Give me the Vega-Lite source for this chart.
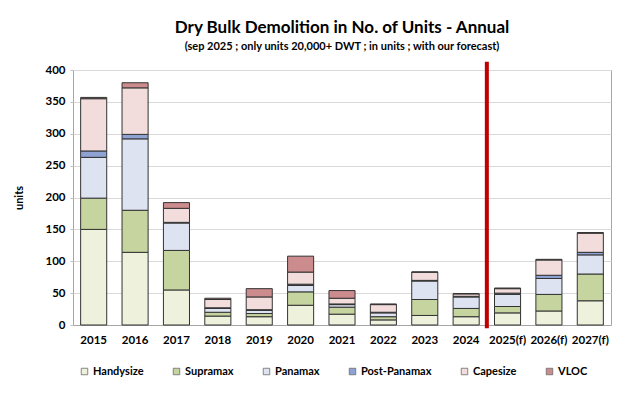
{
  "$schema": "https://vega.github.io/schema/vega-lite/v6.json",
  "width": 538,
  "height": 255,
  "autosize": {"type": "none"},
  "padding": {"left": 73, "top": 70, "right": 14, "bottom": 71},
  "background": "white",
  "title": {
    "text": "Dry Bulk Demolition in No. of Units - Annual",
    "subtitle": "(sep 2025 ; only units 20,000+ DWT ; in units ; with our forecast)",
    "anchor": "middle",
    "font": "Lato",
    "fontSize": 17,
    "fontWeight": "bold",
    "color": "black",
    "subtitleFont": "Lato",
    "subtitleFontSize": 11,
    "subtitleFontWeight": "bold",
    "subtitleColor": "black",
    "subtitlePadding": 4,
    "offset": 7
  },
  "config": {
    "view": {"stroke": "#A6A6A6", "strokeWidth": 1},
    "axis": {"labelFont": "Lato", "labelFontWeight": "bold", "labelFontSize": 11, "labelColor": "black", "titleFont": "Lato", "titleFontWeight": "bold", "titleFontSize": 11, "titleColor": "black"},
    "axisY": {"values": [0,50,100,150,200,250,300,350,400], "labelOverlap": false, "gridColor": "#D9D9D9", "gridWidth": 1, "domain": false, "tickColor": "#BFBFBF", "tickSize": 3, "labelPadding": 5, "titlePadding": 20, "labelFontSize": 11.5},
    "legend": {"labelFont": "Lato", "labelFontWeight": "bold", "labelFontSize": 11, "labelColor": "black"}
  },
  "datasets": {
    "demo": [
      {"year": "2015", "type": "Handysize", "units": 150}, {"year": "2015", "type": "Supramax", "units": 49}, {"year": "2015", "type": "Panamax", "units": 64}, {"year": "2015", "type": "Post-Panamax", "units": 10}, {"year": "2015", "type": "Capesize", "units": 82}, {"year": "2015", "type": "VLOC", "units": 2},
      {"year": "2016", "type": "Handysize", "units": 114}, {"year": "2016", "type": "Supramax", "units": 66}, {"year": "2016", "type": "Panamax", "units": 112}, {"year": "2016", "type": "Post-Panamax", "units": 7}, {"year": "2016", "type": "Capesize", "units": 73}, {"year": "2016", "type": "VLOC", "units": 8},
      {"year": "2017", "type": "Handysize", "units": 55}, {"year": "2017", "type": "Supramax", "units": 62}, {"year": "2017", "type": "Panamax", "units": 43}, {"year": "2017", "type": "Post-Panamax", "units": 1}, {"year": "2017", "type": "Capesize", "units": 22}, {"year": "2017", "type": "VLOC", "units": 9},
      {"year": "2018", "type": "Handysize", "units": 14}, {"year": "2018", "type": "Supramax", "units": 6}, {"year": "2018", "type": "Panamax", "units": 6}, {"year": "2018", "type": "Post-Panamax", "units": 1}, {"year": "2018", "type": "Capesize", "units": 13}, {"year": "2018", "type": "VLOC", "units": 2},
      {"year": "2019", "type": "Handysize", "units": 13}, {"year": "2019", "type": "Supramax", "units": 5}, {"year": "2019", "type": "Panamax", "units": 5}, {"year": "2019", "type": "Post-Panamax", "units": 1}, {"year": "2019", "type": "Capesize", "units": 20}, {"year": "2019", "type": "VLOC", "units": 13},
      {"year": "2020", "type": "Handysize", "units": 31}, {"year": "2020", "type": "Supramax", "units": 21}, {"year": "2020", "type": "Panamax", "units": 10}, {"year": "2020", "type": "Post-Panamax", "units": 2}, {"year": "2020", "type": "Capesize", "units": 19}, {"year": "2020", "type": "VLOC", "units": 25},
      {"year": "2021", "type": "Handysize", "units": 17}, {"year": "2021", "type": "Supramax", "units": 11}, {"year": "2021", "type": "Panamax", "units": 4}, {"year": "2021", "type": "Post-Panamax", "units": 1}, {"year": "2021", "type": "Capesize", "units": 9}, {"year": "2021", "type": "VLOC", "units": 12},
      {"year": "2022", "type": "Handysize", "units": 8}, {"year": "2022", "type": "Supramax", "units": 5}, {"year": "2022", "type": "Panamax", "units": 6}, {"year": "2022", "type": "Post-Panamax", "units": 1}, {"year": "2022", "type": "Capesize", "units": 12}, {"year": "2022", "type": "VLOC", "units": 1},
      {"year": "2023", "type": "Handysize", "units": 15}, {"year": "2023", "type": "Supramax", "units": 25}, {"year": "2023", "type": "Panamax", "units": 29}, {"year": "2023", "type": "Post-Panamax", "units": 1}, {"year": "2023", "type": "Capesize", "units": 13}, {"year": "2023", "type": "VLOC", "units": 0},
      {"year": "2024", "type": "Handysize", "units": 13}, {"year": "2024", "type": "Supramax", "units": 13}, {"year": "2024", "type": "Panamax", "units": 18}, {"year": "2024", "type": "Post-Panamax", "units": 1}, {"year": "2024", "type": "Capesize", "units": 4}, {"year": "2024", "type": "VLOC", "units": 0},
      {"year": "2025(f)", "type": "Handysize", "units": 19}, {"year": "2025(f)", "type": "Supramax", "units": 10}, {"year": "2025(f)", "type": "Panamax", "units": 19}, {"year": "2025(f)", "type": "Post-Panamax", "units": 2}, {"year": "2025(f)", "type": "Capesize", "units": 7}, {"year": "2025(f)", "type": "VLOC", "units": 1},
      {"year": "2026(f)", "type": "Handysize", "units": 22}, {"year": "2026(f)", "type": "Supramax", "units": 26}, {"year": "2026(f)", "type": "Panamax", "units": 25}, {"year": "2026(f)", "type": "Post-Panamax", "units": 5}, {"year": "2026(f)", "type": "Capesize", "units": 24}, {"year": "2026(f)", "type": "VLOC", "units": 1},
      {"year": "2027(f)", "type": "Handysize", "units": 38}, {"year": "2027(f)", "type": "Supramax", "units": 42}, {"year": "2027(f)", "type": "Panamax", "units": 30}, {"year": "2027(f)", "type": "Post-Panamax", "units": 4}, {"year": "2027(f)", "type": "Capesize", "units": 30}, {"year": "2027(f)", "type": "VLOC", "units": 1}
    ],
    "divider": [
      {"year": "2025(f)", "low": -5, "high": 413}
    ]
  },
  "layer": [
    {
      "data": {"name": "demo"},
      "transform": [
        {"calculate": "indexof(['Handysize','Supramax','Panamax','Post-Panamax','Capesize','VLOC'], datum.type)", "as": "stackOrder"}
      ],
      "mark": {"type": "bar", "width": {"band": 0.63}, "stroke": "#333333", "strokeWidth": 1},
      "encoding": {
        "x": {
          "field": "year", "type": "ordinal",
          "scale": {"domain": ["2015","2016","2017","2018","2019","2020","2021","2022","2023","2024","2025(f)","2026(f)","2027(f)"], "paddingInner": 0, "paddingOuter": 0},
          "axis": {"title": null, "labelAngle": 0, "ticks": false, "labelPadding": 9, "domainColor": "#A6A6A6", "labelFontSize": 11.5}
        },
        "y": {
          "field": "units", "type": "quantitative", "stack": "zero",
          "scale": {"domain": [0, 400], "nice": false},
          "axis": {"title": "units"}
        },
        "color": {
          "field": "type", "type": "nominal",
          "scale": {
            "domain": ["Handysize","Supramax","Panamax","Post-Panamax","Capesize","VLOC"],
            "range": ["#EEF1DC","#C6D59F","#DEE3F1","#8FA2D4","#F2DCDC","#CC8C8E"]
          },
          "legend": {
            "title": null, "orient": "none", "direction": "horizontal", "columns": 6,
            "legendX": 6, "legendY": 296,
            "symbolType": "square", "symbolSize": 42, "symbolStrokeColor": "#6b6b6b", "symbolStrokeWidth": 0.8,
            "columnPadding": 27, "labelOffset": 3, "gridAlign": "none"
          }
        },
        "order": {"field": "stackOrder", "type": "quantitative"}
      }
    },
    {
      "data": {"name": "divider"},
      "mark": {"type": "rule", "color": "#C00000", "strokeWidth": 4, "clip": false},
      "encoding": {
        "x": {"field": "year", "type": "ordinal", "bandPosition": 0},
        "y": {"field": "low", "type": "quantitative", "axis": {"title": "units"}},
        "y2": {"field": "high"}
      }
    }
  ]
}
